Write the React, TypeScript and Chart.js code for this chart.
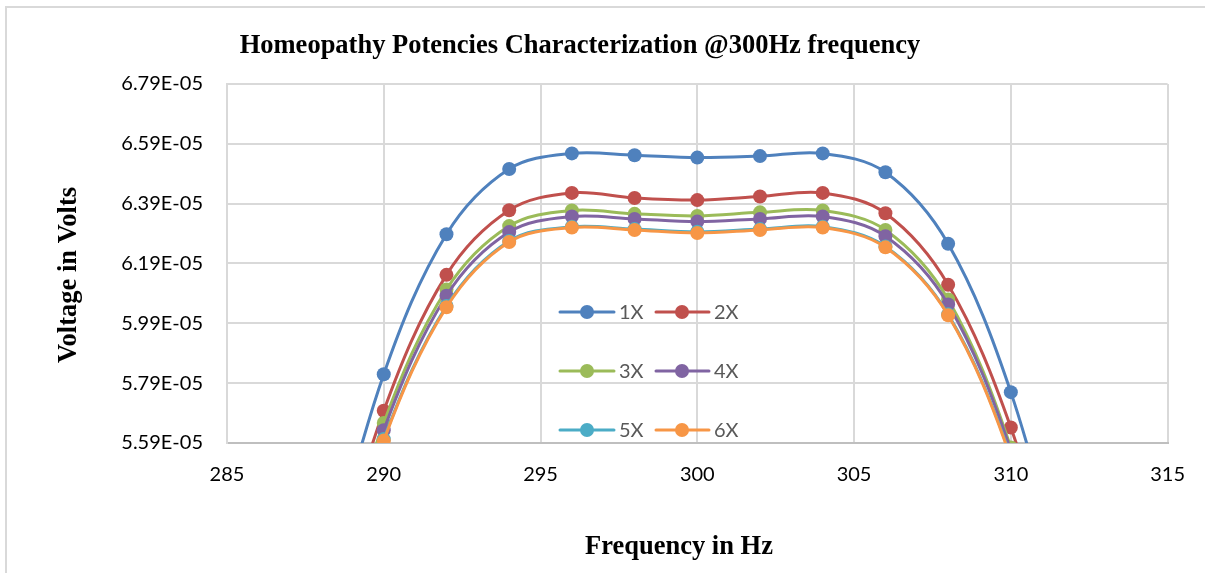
import React, { useEffect, useRef } from "react";
import { Chart, registerables } from "chart.js";

Chart.register(...registerables);

// ---- data ----
const frequencies = [288, 290, 292, 294, 296, 298, 300, 302, 304, 306, 308, 310, 312];
const series1X = [5.09e-5, 5.82e-5, 6.288e-5, 6.506e-5, 6.558e-5, 6.552e-5, 6.544e-5, 6.549e-5, 6.558e-5, 6.495e-5, 6.256e-5, 5.76e-5, 5.01e-5];
const series2X = [5.0e-5, 5.698e-5, 6.152e-5, 6.368e-5, 6.426e-5, 6.409e-5, 6.402e-5, 6.414e-5, 6.426e-5, 6.358e-5, 6.119e-5, 5.642e-5, 4.93e-5];
const series3X = [4.97e-5, 5.657e-5, 6.103e-5, 6.315e-5, 6.367e-5, 6.356e-5, 6.349e-5, 6.361e-5, 6.367e-5, 6.302e-5, 6.07e-5, 5.575e-5, 4.82e-5];
const series4X = [4.95e-5, 5.633e-5, 6.082e-5, 6.295e-5, 6.347e-5, 6.339e-5, 6.33e-5, 6.339e-5, 6.347e-5, 6.281e-5, 6.053e-5, 5.565e-5, 4.82e-5];
const series5X = [4.93e-5, 5.603e-5, 6.048e-5, 6.265e-5, 6.313e-5, 6.305e-5, 6.296e-5, 6.305e-5, 6.313e-5, 6.247e-5, 6.02e-5, 5.545e-5, 4.83e-5];
const series6X = [4.92e-5, 5.598e-5, 6.044e-5, 6.262e-5, 6.31e-5, 6.302e-5, 6.292e-5, 6.302e-5, 6.31e-5, 6.244e-5, 6.017e-5, 5.54e-5, 4.83e-5];

const seriesNames = ["1X", "2X", "3X", "4X", "5X", "6X"];
const seriesValues = [series1X, series2X, series3X, series4X, series5X, series6X];
const seriesColors = ["#4f81bd", "#c0504d", "#9bbb59", "#8064a2", "#4bacc6", "#f79646"];

const yTickValues = [5.59e-5, 5.79e-5, 5.99e-5, 6.19e-5, 6.39e-5, 6.59e-5, 6.79e-5];
const yTickLabels = ["5.59E-05", "5.79E-05", "5.99E-05", "6.19E-05", "6.39E-05", "6.59E-05", "6.79E-05"];
const xMin = 285;
const xMax = 315;
const xStep = 5;

const chartTitle = "Homeopathy Potencies Characterization @300Hz frequency";
const xAxisTitle = "Frequency in Hz";
const yAxisTitle = "Voltage in Volts";

const SERIF = "'Liberation Serif', 'Times New Roman', serif";
const SANS = "Lato, 'Open Sans', sans-serif";

const decorPlugin = {
  id: "decor",
  beforeDraw(chart: any) {
    const ctx = chart.ctx;
    ctx.save();
    ctx.fillStyle = "#ffffff";
    ctx.fillRect(0, 0, chart.width, chart.height);
    ctx.fillStyle = "#d9d9d9";
    ctx.fillRect(5, 6, chart.width - 5, 2);
    ctx.fillRect(5, 6, 2, chart.height - 6);
    ctx.restore();
  },
  afterDraw(chart: any) {
    const ctx = chart.ctx;
    ctx.save();
    ctx.fillStyle = "#000000";
    ctx.font = `bold 26.5px ${SERIF}`;
    ctx.textAlign = "center";
    ctx.textBaseline = "alphabetic";
    ctx.fillText(chartTitle, 580, 53);
    ctx.fillText(xAxisTitle, 679, 554);
    ctx.save();
    ctx.translate(76, 275);
    ctx.rotate(-Math.PI / 2);
    ctx.fillText(yAxisTitle, 0, 0);
    ctx.restore();

    // legend
    const rows = [312, 371, 430];
    const cols = [
      { x0: 560, x1: 614, m: 587, t: 619 },
      { x0: 656, x1: 709, m: 682, t: 714 },
    ];
    ctx.font = `20px ${SANS}`;
    ctx.textAlign = "left";
    ctx.textBaseline = "middle";
    seriesNames.forEach((name, i) => {
      const r = rows[Math.floor(i / 2)];
      const c = cols[i % 2];
      ctx.strokeStyle = seriesColors[i];
      ctx.lineWidth = 3;
      ctx.lineCap = "round";
      ctx.beginPath();
      ctx.moveTo(c.x0, r);
      ctx.lineTo(c.x1, r);
      ctx.stroke();
      ctx.fillStyle = seriesColors[i];
      ctx.beginPath();
      ctx.arc(c.m, r, 7, 0, Math.PI * 2);
      ctx.fill();
      ctx.fillStyle = "#595959";
      ctx.fillText(name, c.t, r + 1);
    });
    ctx.restore();
  },
};

export default function App() {
  const canvasRef = useRef<HTMLCanvasElement | null>(null);

  useEffect(() => {
    document.body.style.margin = "0";
    const canvas = canvasRef.current;
    if (!canvas) return;
    const datasets = seriesNames.map((name, i) => ({
      label: name,
      data: frequencies.map((f, j) => ({ x: f, y: seriesValues[i][j] })),
      borderColor: seriesColors[i],
      backgroundColor: seriesColors[i],
      pointBackgroundColor: seriesColors[i],
      pointBorderColor: seriesColors[i],
      borderWidth: 3,
      pointRadius: 7,
      pointBorderWidth: 0,
      tension: 0.35,
      fill: false,
      order: seriesNames.length - 1 - i,
    }));

    const chart = new Chart(canvas, {
      type: "line",
      data: { datasets },
      options: {
        responsive: false,
        devicePixelRatio: 1,
        animation: false,
        layout: { padding: { top: 84, right: 37, left: 0, bottom: 0 } },
        elements: { line: { capBezierPoints: false } },
        plugins: {
          legend: { display: false },
          title: { display: false },
          tooltip: { enabled: false },
        },
        scales: {
          x: {
            type: "linear",
            min: xMin,
            max: xMax,
            ticks: {
              stepSize: xStep,
              padding: 20,
              color: "#000000",
              font: { family: SANS, size: 20 },
            },
            grid: { color: "#d9d9d9", lineWidth: 2, drawTicks: false },
            border: { color: "#bfbfbf", width: 2 },
            afterFit: (scale: any) => {
              scale.height = 130;
            },
          },
          y: {
            type: "linear",
            min: yTickValues[0],
            max: yTickValues[yTickValues.length - 1],
            afterBuildTicks: (scale: any) => {
              scale.ticks = yTickValues.map((v) => ({ value: v }));
            },
            ticks: {
              padding: 24,
              color: "#000000",
              font: { family: SANS, size: 20 },
              callback: (_v: any, index: number) => yTickLabels[index],
            },
            grid: { color: "#d9d9d9", lineWidth: 2, drawTicks: false },
            border: { color: "#d9d9d9", width: 2 },
            afterFit: (scale: any) => {
              scale.width = 227;
            },
          },
        },
      },
      plugins: [decorPlugin],
    });
    return () => chart.destroy();
  }, []);

  return (
    <div style={{ width: 1205, height: 573 }}>
      <canvas ref={canvasRef} width={1205} height={573} />
    </div>
  );
}
